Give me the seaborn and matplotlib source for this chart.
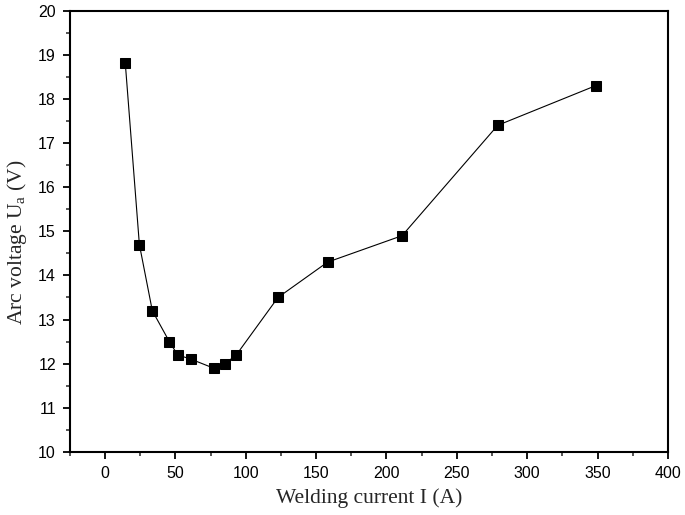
import matplotlib
matplotlib.use("Agg")
import matplotlib.pyplot as plt
import seaborn as sns
import pandas as pd
from matplotlib.ticker import MultipleLocator

current = [14.4, 24.4, 33.6, 45.7, 51.6, 61.3, 77.1, 85.2, 93.3, 122.9, 158.1, 211.1, 279.1, 348.9]
voltage = [18.8, 14.7, 13.2, 12.5, 12.2, 12.1, 11.9, 12.0, 12.2, 13.5, 14.3, 14.9, 17.4, 18.3]

df = pd.DataFrame({"current": current, "voltage": voltage})

sns.set_style("ticks")
plt.rcParams["font.family"] = ["Liberation Sans", "DejaVu Sans"]

fig = plt.figure(figsize=(6.85, 5.15), dpi=100)
ax = fig.add_axes([0.102, 0.1223, 0.873, 0.8573])

sns.lineplot(data=df, x="current", y="voltage", ax=ax, color="black", lw=0.8,
             marker="s", markersize=7.5, markeredgecolor="black",
             markerfacecolor="black", sort=False)

ax.set_xlim(-25, 400)
ax.set_ylim(10, 20)
ax.xaxis.set_major_locator(MultipleLocator(50))
ax.xaxis.set_minor_locator(MultipleLocator(25))
ax.yaxis.set_major_locator(MultipleLocator(1))
ax.yaxis.set_minor_locator(MultipleLocator(0.5))

for s in ax.spines.values():
    s.set_visible(True)
    s.set_linewidth(1.5)
    s.set_color("black")

ax.tick_params(which="major", direction="out", length=5, width=1.3,
               labelsize=11.5, colors="black", top=False, right=False, pad=5)
ax.tick_params(which="minor", direction="out", length=3, width=1.1,
               top=False, right=False)

ax.set_xlabel("Welding current I (A)", family="Liberation Serif", fontsize=15.5, labelpad=5)
ax.set_ylabel(r"Arc voltage U$_{\mathregular{a}}$ (V)", family="Liberation Serif",
              fontsize=15.5)
ax.yaxis.set_label_coords(-0.068, 0.475)

fig.savefig("out.png", dpi=100)
